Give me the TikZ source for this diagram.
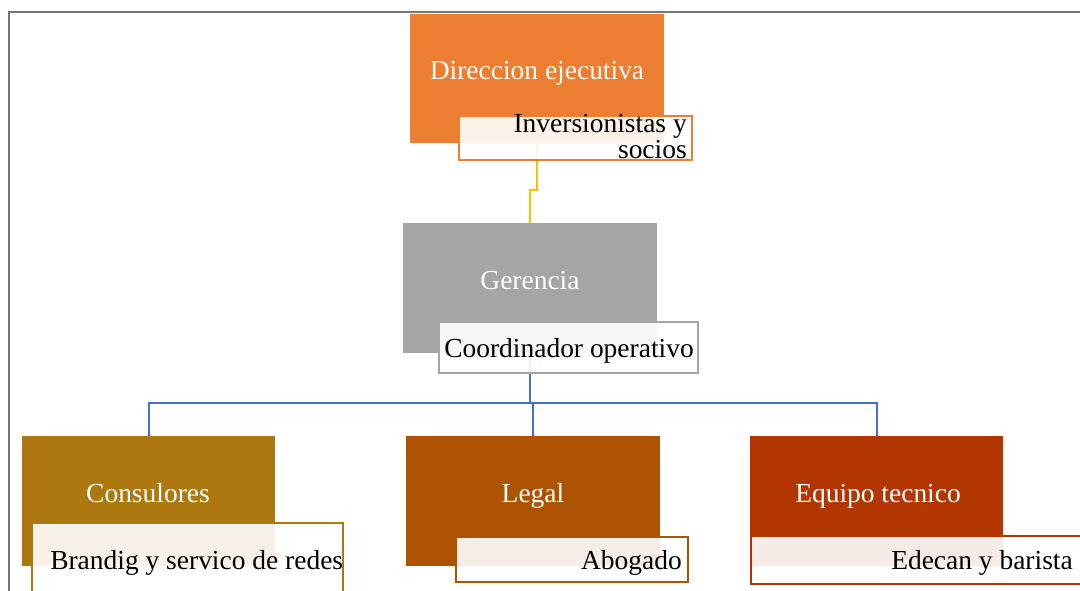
\documentclass[tikz,border=0pt]{standalone}
\usepackage{fontspec}
\setmainfont{Liberation Serif}
\usetikzlibrary{fit}
\definecolor{cOrange}{HTML}{ED7D31}
\definecolor{cGray}{HTML}{A5A5A5}
\definecolor{cGold}{HTML}{AE7811}
\definecolor{cRust}{HTML}{AD5300}
\definecolor{cBrick}{HTML}{B33600}
\definecolor{cYellow}{HTML}{FFC000}
\definecolor{cBlue}{HTML}{4472C4}
\definecolor{cFrame}{HTML}{767676}
\tikzset{
  mainbox/.style={inner sep=0pt, fill=#1, draw=none},
  subbox/.style={inner sep=0pt, fill=white, fill opacity=0.9, draw=#1, draw opacity=1, line width=1.5pt},
  whitetext/.style={text=white, inner sep=0pt, anchor=base},
  darktext/.style={text=black, inner sep=0pt},
  link/.style={line width=1.5pt, draw=#1},
}
\begin{document}
\begin{tikzpicture}[x=0.75pt, y=-0.75pt, font=\fontsize{20.6}{19.5}\selectfont]
\useasboundingbox (0,0) rectangle (1080,591);
% page frame
\draw[cFrame, line width=1.5pt] (9,591) -- (9,12) -- (1080,12);

% main boxes
\node[mainbox=cOrange, fit={(410,14) (664,143)}] (dir) {};
\node[mainbox=cGray,   fit={(403,223) (657,353)}] (ger) {};
\node[mainbox=cGold,   fit={(22,436) (275,566)}] (con) {};
\node[mainbox=cRust,   fit={(406,436) (660,566)}] (leg) {};
\node[mainbox=cBrick,  fit={(750,436) (1003,566)}] (equ) {};

\node[whitetext] (tdir) at (537,80) {Direccion ejecutiva};
\node[whitetext] (tger) at (530,290) {Gerencia};
\node[whitetext] (tcon) at (148,502) {Consulores};
\node[whitetext] (tleg) at (533,502) {Legal};
\node[whitetext] (tequ) at (878,502) {Equipo tecnico};

% connectors
\coordinate (bus) at (530,403);
\draw[link=cYellow] (dir.south) -- ++(0,47) -| (ger.north);
\draw[link=cBlue] (ger.south) -- (bus);
\draw[link=cBlue] (con.north) |- (bus) -| (equ.north);
\draw[link=cBlue] (bus) -| (leg.north);

% attached boxes
\node[subbox=cOrange, fit={(459,116) (692,160)}] (inv) {};
\node[subbox=cGray,   fit={(439,322) (698,373)}] (coo) {};
\node[subbox=cGold,   fit={(32,523) (343,600)}] (bra) {};
\node[subbox=cRust,   fit={(456,537) (688,582)}] (abo) {};
\node[subbox=cBrick,  fit={(751,536) (1085,584)}] (ede) {};

\node[darktext, anchor=north east, align=right] (tinv) at (687,114) {Inversionistas y\\socios};
\node[darktext, anchor=base] (tcoo) at (569,357) {Coordinador operativo};
\node[darktext, anchor=base west] (tbra) at (50,569) {Brandig y servico de redes};
\node[darktext, anchor=base east] (tabo) at (682,569) {Abogado};
\node[darktext, anchor=base east] (tede) at (1073,569) {Edecan y barista};
\end{tikzpicture}
\end{document}
